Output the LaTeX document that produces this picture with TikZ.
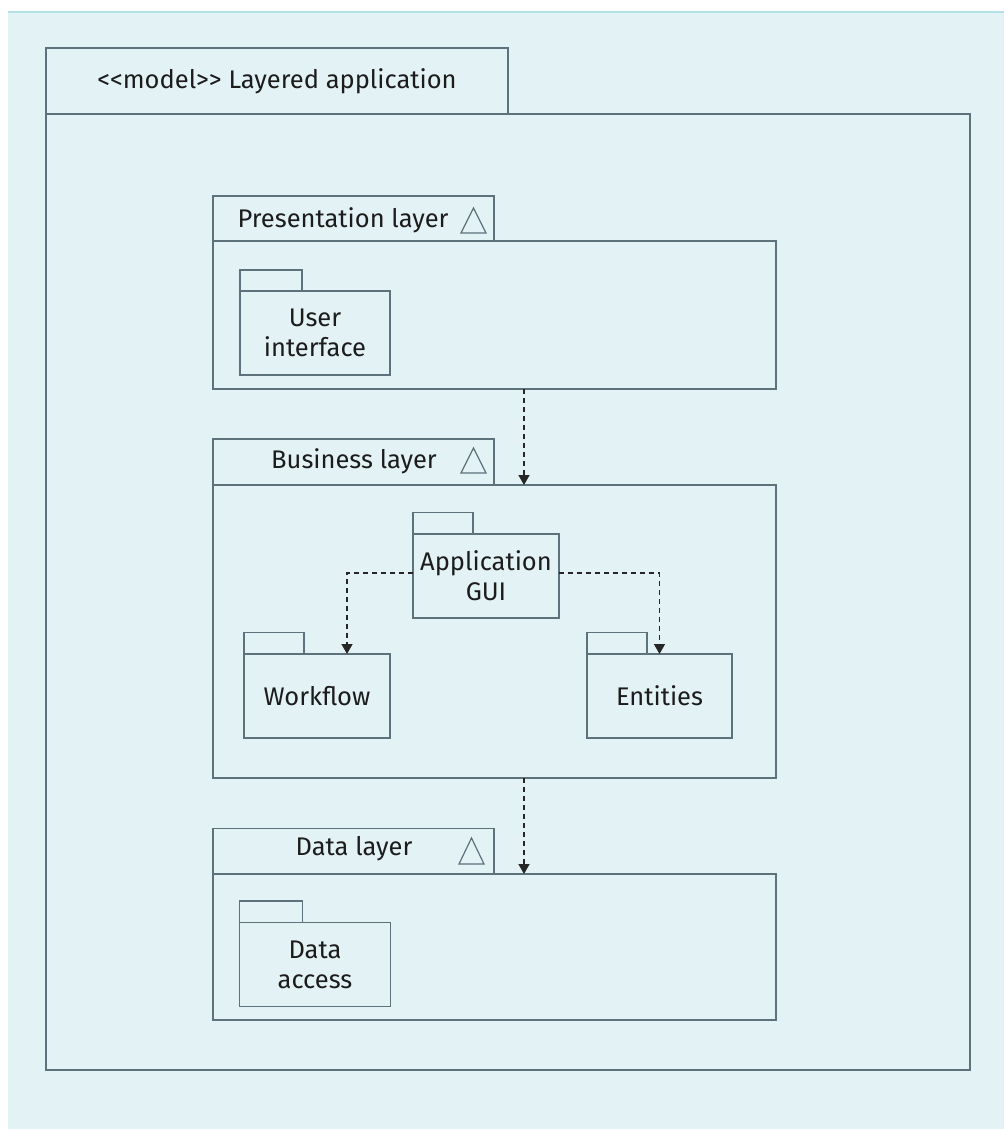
\documentclass[tikz,border=0pt]{standalone}
\usepackage{fontspec}
\setmainfont{Fira Sans}
\usetikzlibrary{arrows.meta}
\definecolor{bgc}{HTML}{E3F2F4}
\definecolor{topline}{HTML}{B5E0E8}
\definecolor{strk}{HTML}{5E727C}
\definecolor{txt}{HTML}{1C1C1C}
\tikzset{
  box/.style={draw=strk, line width=1.4pt, inner sep=0pt, outer sep=0pt, anchor=north west, text=txt, align=center, font=\fontsize{25.5}{30}\selectfont},
  lbl/.style={inner sep=0pt, text=txt, font=\fontsize{25.5}{30}\selectfont, align=center},
  dep/.style={draw=black!85, line width=1.4pt, dash pattern=on 5pt off 4pt, -{Triangle[width=11pt,length=10pt]}},
  tri/.style={draw=strk, line width=1.2pt}
}
\begin{document}
\begin{tikzpicture}[x=1pt,y=-1pt]
\useasboundingbox (0,0) rectangle (1004,1129);
\fill[white] (0,0) rectangle (1004,1129);
\fill[bgc] (8,12) rectangle (1004,1129);
\draw[topline, line width=1.2pt] (8,12) -- (1004,12);
% outer model frame
\node[box, minimum width=462pt, minimum height=66pt] (mtab) at (46,48) {};
\node[box, minimum width=924pt, minimum height=956pt] (mbody) at (46,114) {};
\node[lbl] (mtitle) at (277,81) {<{}<model>{}> Layered application};
% presentation layer
\node[box, minimum width=281pt, minimum height=45pt] (ptab) at (213,196) {};
\node[box, minimum width=563pt, minimum height=148pt] (pbody) at (213,241) {};
\node[lbl] (ptitle) at (343,220) {Presentation layer};
\draw[tri] (461,233) -- (473.5,208) -- (486,233) -- cycle;
\node[box, minimum width=62pt, minimum height=21pt] (uitab) at (240,270) {};
\node[box, minimum width=150pt, minimum height=84pt] (ui) at (240,291) {User\\interface};
% business layer
\node[box, minimum width=281pt, minimum height=46pt] (btab) at (213,439) {};
\node[box, minimum width=563pt, minimum height=293pt] (bbody) at (213,485) {};
\node[lbl] (btitle) at (354,461) {Business layer};
\draw[tri] (461,473) -- (473.5,448) -- (486,473) -- cycle;
\node[box, minimum width=60pt, minimum height=21.5pt] (guitab) at (413,512.5) {};
\node[box, minimum width=146pt, minimum height=84pt] (gui) at (413,534) {Application\\GUI};
\node[box, minimum width=60pt, minimum height=21.5pt] (wftab) at (244,632.5) {};
\node[box, minimum width=146pt, minimum height=84pt] (wf) at (244,654) {Workflow};
\node[box, minimum width=60pt, minimum height=21.5pt] (enttab) at (587,632.5) {};
\node[box, minimum width=145pt, minimum height=84pt] (ent) at (587,654) {Entities};
% data layer
\node[box, minimum width=281pt, minimum height=45.5pt] (dtab) at (213,828.5) {};
\node[box, minimum width=563pt, minimum height=146pt] (dbody) at (213,874) {};
\node[lbl] (dtitle) at (354,849) {Data layer};
\draw[tri] (459,864) -- (471.5,838) -- (484,864) -- cycle;
\node[box, minimum width=63pt, minimum height=21.5pt] (datab) at (239.5,901) {};
\node[box, minimum width=151pt, minimum height=84pt] (da) at (239.5,922.5) {Data\\access};
% dependencies
\draw[dep] ([xshift=29.5pt]pbody.south) -- ([xshift=29.5pt]bbody.north);
\draw[dep] ([xshift=29.5pt]bbody.south) -- ([xshift=29.5pt]dbody.north);
\draw[dep] ([yshift=3pt]gui.west) -| ([xshift=30pt]wf.north);
\draw[dep] ([yshift=3pt]gui.east) -| (ent.north);
\end{tikzpicture}
\end{document}
